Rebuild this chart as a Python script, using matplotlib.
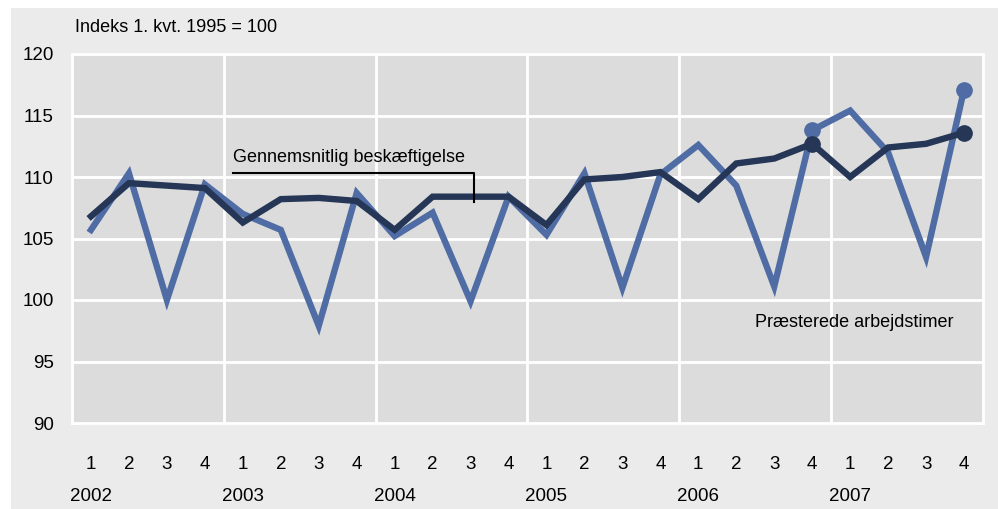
import numpy as np
import matplotlib
matplotlib.use("Agg")
from matplotlib import pyplot as plt
from matplotlib.patches import Rectangle

plt.rcParams['font.family'] = ['Liberation Sans Narrow', 'Liberation Sans', 'DejaVu Sans']

# quarters 2002Q1 .. 2007Q4
years = ['2002', '2003', '2004', '2005', '2006', '2007']
quarters = ['1', '2', '3', '4'] * 6

arbejdstimer = [105.7, 110.3, 100.0, 109.4, 107.0, 105.7, 97.9, 108.7,
                105.2, 107.1, 99.9, 108.4, 105.3, 110.3, 101.0, 110.2,
                112.6, 109.3, 101.1, 113.8, 115.4, 112.0, 103.5, 117.1]
beskaeftigelse = [106.8, 109.5, 109.3, 109.1, 106.3, 108.2, 108.3, 108.05,
                  105.7, 108.4, 108.4, 108.4, 106.1, 109.8, 110.0, 110.4,
                  108.2, 111.1, 111.5, 112.7, 110.0, 112.4, 112.7, 113.6]
marked = [19, 23]

light = '#4f6ca4'
dark = '#253656'
fs = 13

fig = plt.figure(figsize=(9.98, 5.09), dpi=100)
fig.patch.set_facecolor('white')
fig.patches.append(Rectangle((11/998, 0), 1, 1 - 8/509, transform=fig.transFigure,
                             facecolor='#ebebeb', edgecolor='none', zorder=-10))

ax = fig.add_axes([72/998, 1 - 423/509, 911/998, 369/509])
ax.set_facecolor('#dcdcdc')

x = np.arange(len(arbejdstimer))
ax.plot(x, arbejdstimer, color=light, lw=4.6, solid_joinstyle='miter', zorder=3)
ax.plot(x[marked], np.array(arbejdstimer)[marked], 'o', color=light, ms=11, zorder=3)
ax.plot(x, beskaeftigelse, color=dark, lw=4.6, solid_joinstyle='miter', zorder=4)
ax.plot(x[marked], np.array(beskaeftigelse)[marked], 'o', color=dark, ms=11, zorder=4)

ax.set_xlim(-0.5, 23.5)
ax.set_ylim(90, 120)
ax.set_yticks(np.arange(90, 121, 5))
ax.set_xticks(x)
ax.set_xticklabels(quarters)
ax.tick_params(length=0, labelsize=fs + 0.5, colors='black')
ax.tick_params(axis='x', pad=24)
ax.tick_params(axis='y', pad=13)

for yv in np.arange(95, 120, 5):
    ax.axhline(yv, color='white', lw=2, zorder=1)
for xv in np.arange(3.5, 23, 4):
    ax.axvline(xv, color='white', lw=2, zorder=1)
for s in ax.spines.values():
    s.set_color('white')
    s.set_linewidth(2)

for i, yr in enumerate(years):
    ax.text(4 * i, -0.2, yr, transform=ax.get_xaxis_transform(),
            ha='center', va='center', fontsize=fs + 0.5)

fig.text(75/998, 1 - 27/509, 'Indeks 1. kvt. 1995 = 100', ha='left', va='center', fontsize=fs)

# annotations
ax.text(3.75, 110.9, 'Gennemsnitlig beskæftigelse', ha='left', va='bottom', fontsize=fs)
ax.plot([3.75, 10.1, 10.1], [110.3, 110.3, 108.0], color='black', lw=1.5, zorder=5)
ax.text(17.5, 98.2, 'Præsterede arbejdstimer', ha='left', va='center', fontsize=fs)

fig.savefig('out.png', dpi=100)
